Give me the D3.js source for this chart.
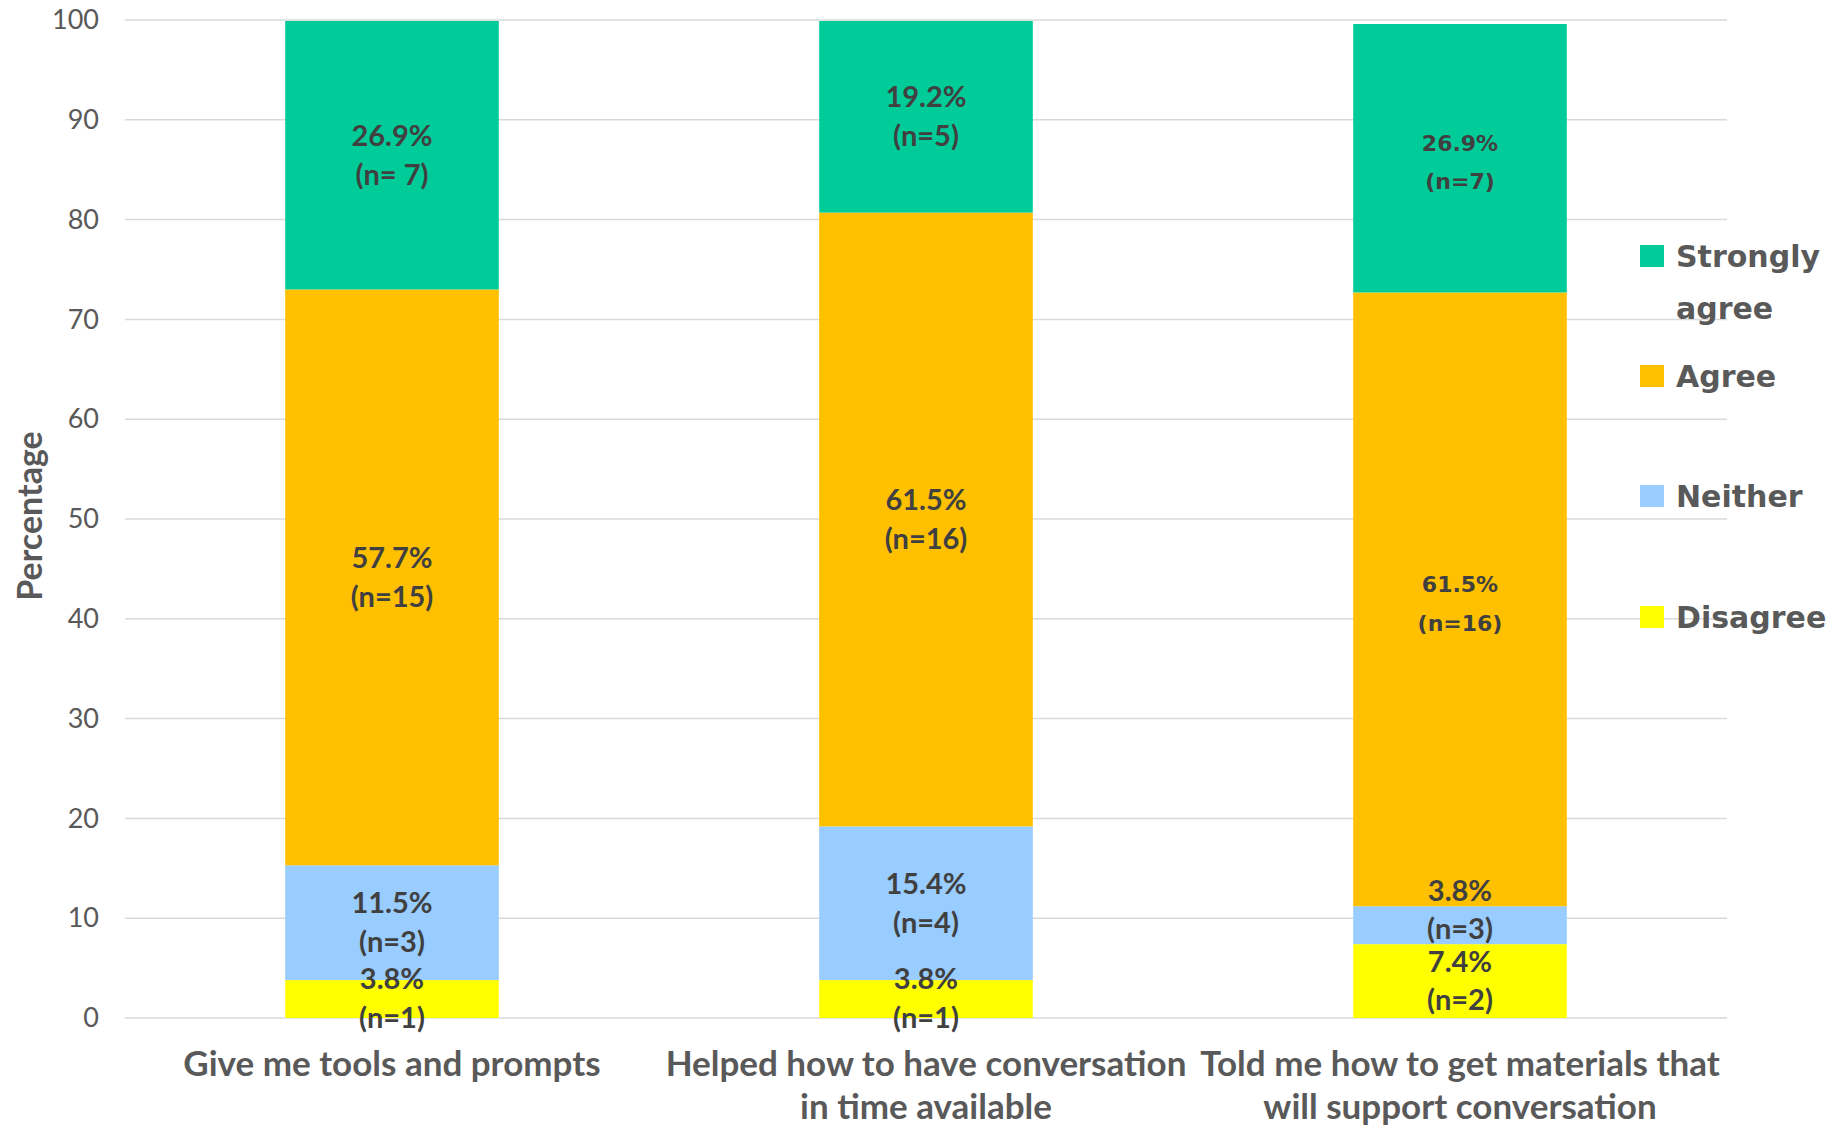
<!DOCTYPE html>
<html>
<head>
<meta charset="utf-8">
<script src="https://cdn.jsdelivr.net/npm/d3@7"></script>
<style>
  html, body { margin: 0; padding: 0; background: #fff; }
  svg { display: block; }
</style>
</head>
<body>
<script>
// Survey items (x categories)
const categories = [
  ["Give me tools and prompts"],
  ["Helped how to have conversation", "in time available"],
  ["Told me how to get materials that", "will support conversation"]
];

// Response levels, stacked bottom to top
const seriesNames = ["Disagree", "Neither", "Agree", "Strongly agree"];

// Percentages per level for each item
const disagree      = [3.8, 3.8, 7.4];
const neither       = [11.5, 15.4, 3.8];
const agree         = [57.7, 61.5, 61.5];
const stronglyAgree = [26.9, 19.2, 26.9];

// Counts shown under each percentage
const nDisagree      = ["(n=1)", "(n=1)", "(n=2)"];
const nNeither       = ["(n=3)", "(n=4)", "(n=3)"];
const nAgree         = ["(n=15)", "(n=16)", "(n=16)"];
const nStronglyAgree = ["(n= 7)", "(n=5)", "(n=7)"];

// Y axis ticks
const yTicks = [0, 10, 20, 30, 40, 50, 60, 70, 80, 90, 100];

const colors = {
  "Disagree": "#FFFF00",
  "Neither": "#99CCFF",
  "Agree": "#FFC000",
  "Strongly agree": "#00CC99"
};

const W = 1839, H = 1129;
const plot = { left: 125, right: 1727, top: 20, bottom: 1018 };

const svg = d3.select("body").append("svg")
  .attr("width", W).attr("height", H);

const x = d3.scaleBand()
  .domain(d3.range(categories.length))
  .range([plot.left, plot.right])
  .paddingInner(0.6)
  .paddingOuter(0.3);

const y = d3.scaleLinear().domain([0, 100]).range([plot.bottom, plot.top]);

// Gridlines
svg.append("g")
  .selectAll("line")
  .data(yTicks)
  .join("line")
  .attr("x1", plot.left).attr("x2", plot.right)
  .attr("y1", d => y(d)).attr("y2", d => y(d))
  .attr("stroke", "#d9d9d9")
  .attr("stroke-width", 1.5);

// Y tick labels
const yAxis = d3.axisLeft(y).tickValues(yTicks).tickSize(0).tickPadding(0);
const gy = svg.append("g")
  .attr("transform", `translate(${plot.left - 26},0)`)
  .call(yAxis);
gy.select(".domain").remove();
gy.selectAll("text")
  .attr("font-family", "Lato, sans-serif")
  .attr("font-size", 27)
  .attr("fill", "#595959");

// Y axis title
svg.append("text")
  .attr("transform", `translate(42,${(plot.top + plot.bottom) / 2 - 3}) rotate(-90)`)
  .attr("text-anchor", "middle")
  .attr("font-family", "Lato, sans-serif")
  .attr("font-weight", 700)
  .attr("font-size", 34)
  .attr("fill", "#595959")
  .text("Percentage");

// Stack the series
const rows = categories.map((c, i) => ({
  "Disagree": disagree[i],
  "Neither": neither[i],
  "Agree": agree[i],
  "Strongly agree": stronglyAgree[i]
}));
const counts = {
  "Disagree": nDisagree,
  "Neither": nNeither,
  "Agree": nAgree,
  "Strongly agree": nStronglyAgree
};
const stacked = d3.stack().keys(seriesNames)(rows);

const barW = x.bandwidth();

const layers = svg.append("g")
  .selectAll("g")
  .data(stacked)
  .join("g")
  .attr("fill", d => colors[d.key]);

layers.selectAll("rect")
  .data(d => d.map((v, i) => ({ v, i, key: d.key })))
  .join("rect")
  .attr("x", d => x(d.i))
  .attr("width", barW)
  .attr("y", d => y(d.v[1]))
  .attr("height", d => y(d.v[0]) - y(d.v[1]));

// Segment labels, centred in each segment (two lines)
// The last item's top two labels use a wider face
const wideFace = new Set(["2|Agree", "2|Strongly agree"]);
// Thin segment whose label is lifted clear of the one below it
const nudge = { "2|Neither": -15 };
const labelData = [];
stacked.forEach(layer => {
  layer.forEach((v, i) => {
    labelData.push({
      key: layer.key, i,
      mid: (v[0] + v[1]) / 2,
      pct: rows[i][layer.key].toFixed(1) + "%",
      n: counts[layer.key][i]
    });
  });
});

const isWide = d => wideFace.has(d.i + "|" + d.key);

const labels = svg.append("g")
  .selectAll("text")
  .data(labelData)
  .join("text")
  .attr("text-anchor", "middle")
  .attr("fill", "#404040")
  .attr("font-weight", 700)
  .attr("font-family", d => isWide(d) ? "'DejaVu Sans', sans-serif" : "Lato, sans-serif")
  .attr("font-size", d => isWide(d) ? 22 : 29)
  .attr("x", d => x(d.i) + barW / 2)
  .attr("y", d => y(d.mid) + (nudge[d.i + "|" + d.key] || 0));

labels.append("tspan")
  .attr("x", d => x(d.i) + barW / 2)
  .attr("dy", "-0.33em")
  .text(d => d.pct);
labels.append("tspan")
  .attr("x", d => x(d.i) + barW / 2)
  .attr("dy", d => isWide(d) ? "1.75em" : "1.34em")
  .text(d => d.n);

// Category labels
const xl = svg.append("g")
  .selectAll("text")
  .data(categories)
  .join("text")
  .attr("text-anchor", "middle")
  .attr("font-family", "Lato, sans-serif")
  .attr("font-weight", 700)
  .attr("font-size", 35)
  .attr("fill", "#595959")
  .attr("x", (d, i) => x(i) + barW / 2)
  .attr("y", 1076);
xl.selectAll("tspan")
  .data(d => d)
  .join("tspan")
  .attr("x", function () { return d3.select(this.parentNode).attr("x"); })
  .attr("dy", (d, j) => j === 0 ? 0 : 43)
  .text(d => d);

// Legend, top to bottom
const legendItems = [
  { key: "Strongly agree", lines: ["Strongly", "agree"], y: 256 },
  { key: "Agree", lines: ["Agree"], y: 376 },
  { key: "Neither", lines: ["Neither"], y: 496 },
  { key: "Disagree", lines: ["Disagree"], y: 617 }
];
const lg = svg.append("g")
  .selectAll("g")
  .data(legendItems)
  .join("g")
  .attr("transform", d => `translate(1640,${d.y})`);
lg.append("rect")
  .attr("x", 0).attr("y", -11)
  .attr("width", 24).attr("height", 22)
  .attr("fill", d => colors[d.key]);
const lt = lg.append("text")
  .attr("font-family", "'DejaVu Sans', sans-serif")
  .attr("font-weight", 700)
  .attr("font-size", 30)
  .attr("fill", "#595959")
  .attr("x", 36)
  .attr("y", 11);
lt.selectAll("tspan")
  .data(d => d.lines)
  .join("tspan")
  .attr("x", 36)
  .attr("dy", (d, j) => j === 0 ? 0 : 52)
  .text(d => d);
</script>
</body>
</html>
